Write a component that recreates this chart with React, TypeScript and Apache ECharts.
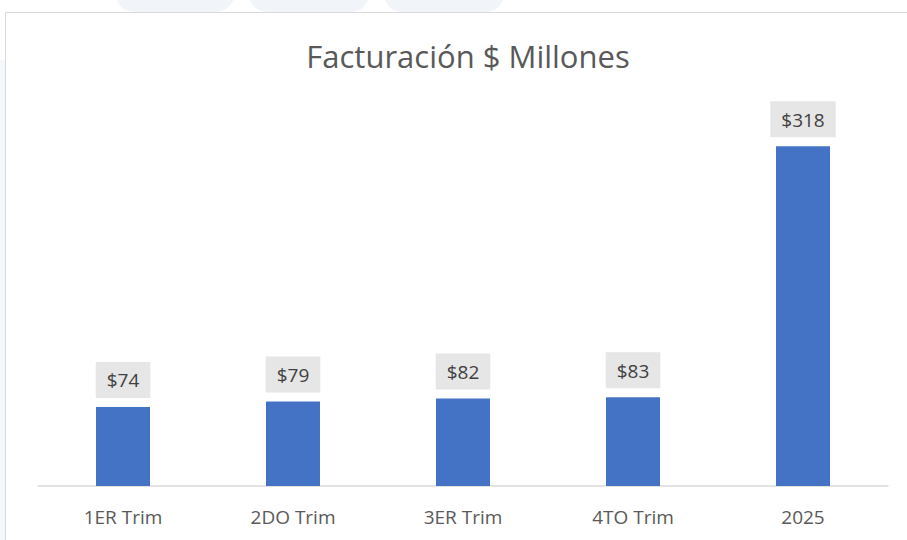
import React, { useEffect, useRef } from "react";
import * as echarts from "echarts";

const categories = ["1ER Trim", "2DO Trim", "3ER Trim", "4TO Trim", "2025"];
const values = [74, 79, 82, 83, 318];
const titleText = "Facturación $ Millones";

export default function App() {
  const ref = useRef<HTMLDivElement>(null);
  useEffect(() => {
    if (!ref.current) return;
    const chart = echarts.init(ref.current, null, { renderer: "svg" });
    chart.setOption({
      animation: false,
      backgroundColor: "#ffffff",
      graphic: [
        { type: "rect", shape: { x: 115, y: -30, width: 120, height: 42, r: 20 }, style: { fill: "#f1f5fa" }, z: -10 },
        { type: "rect", shape: { x: 248, y: -30, width: 122, height: 42, r: 20 }, style: { fill: "#f1f5fa" }, z: -10 },
        { type: "rect", shape: { x: 383, y: -30, width: 122, height: 42, r: 20 }, style: { fill: "#f1f5fa" }, z: -10 },
        { type: "rect", shape: { x: 0, y: 60, width: 5, height: 480 }, style: { fill: "#f4f7fb" }, z: -10 },
        { type: "rect", shape: { x: 5.5, y: 12.5, width: 920, height: 560 }, style: { fill: "#ffffff", stroke: "#d9d9d9", lineWidth: 1 }, z: -5 },
      ],
      title: {
        text: titleText,
        left: 463,
        textAlign: "center",
        top: 35,
        textStyle: { fontFamily: "Open Sans", fontSize: 31, fontWeight: "normal", color: "#595959" },
      },
      grid: { left: 38, right: 19, top: 112, bottom: 54 },
      xAxis: {
        type: "category",
        data: categories,
        axisLine: { lineStyle: { color: "#d9d9d9", width: 1.5 } },
        axisTick: { show: false },
        axisLabel: { color: "#595959", fontSize: 19, fontFamily: "Open Sans", margin: 21 },
      },
      yAxis: {
        type: "value",
        min: 0,
        max: 350,
        show: false,
        splitLine: { show: false },
      },
      series: [
        {
          type: "bar",
          data: values,
          barWidth: 54,
          itemStyle: { color: "#4472c4" },
          label: {
            show: true,
            position: "top",
            distance: 9,
            formatter: "${c}",
            color: "#404040",
            fontSize: 19,
            fontFamily: "Open Sans",
            backgroundColor: "#e7e6e6",
            padding: [9, 11, 8, 11],
          },
        },
      ],
    });
    return () => chart.dispose();
  }, []);
  return <div ref={ref} style={{ position: "fixed", left: 0, top: 0, width: 907, height: 540 }} />;
}
